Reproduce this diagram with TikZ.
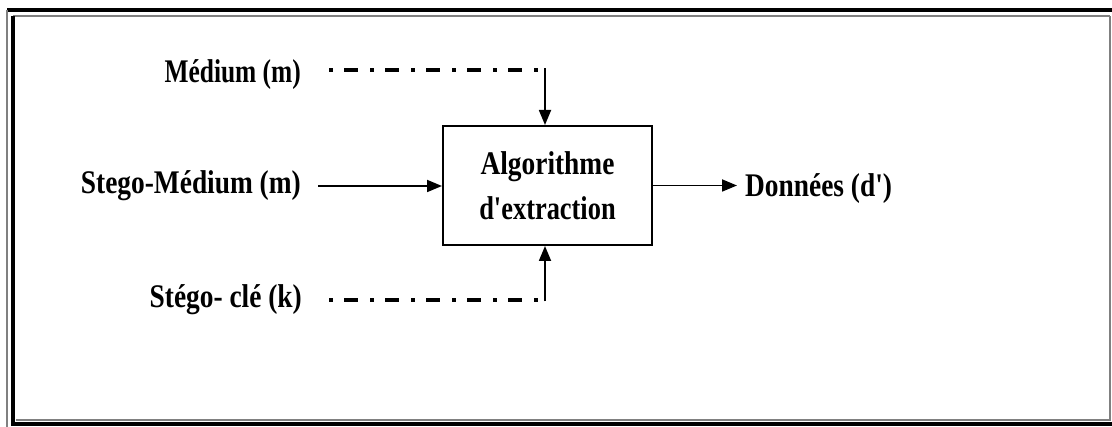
\documentclass[tikz,border=0pt]{standalone}
\usepackage{fontspec}
\usepackage{graphicx}
\setmainfont{Liberation Serif}
\usetikzlibrary{arrows.meta}
\tikzset{
  lbl/.style={inner sep=0pt, font=\fontsize{33}{35}\selectfont\bfseries},
  flow/.style={line width=1.8pt, -{Triangle[length=15pt,width=12pt]}},
  dashdot/.style={line width=3.5pt, dash pattern=on 4pt off 11pt on 14pt off 12pt},
  procbox/.style={draw, line width=2pt, minimum width=209pt, minimum height=119pt, align=center, inner sep=0pt, font=\fontsize{33}{45}\selectfont\bfseries}
}
\newcommand{\sq}[2][0.83]{\scalebox{#1}[1]{#2}}
\begin{document}
\begin{tikzpicture}[x=1pt,y=-1pt]
\useasboundingbox (0,0) rectangle (1112,427);
% frame
\draw[line width=3.5pt] (7,10) -- (1112,10);
\draw[line width=1.2pt, gray] (13,16) -- (1110,16);
\draw[line width=1.2pt, gray] (7,10) -- (7,427);
\draw[line width=3.5pt] (13,16) -- (13,424) -- (1112,424);
\draw[line width=1.2pt, gray] (1110,16) -- (1110,420) -- (16,420);
% nodes
\node[procbox] (alg) at (547.5,185.5) {\sq{Algorithme}\\\sq[0.8]{d\textquotesingle extraction}};
\node[lbl, anchor=east] (med) at (301,75) {\sq[0.77]{Médium (m)}};
\node[lbl, anchor=east] (smed) at (301,186) {\sq{Stego-Médium (m)}};
\node[lbl, anchor=east] (key) at (302,300) {\sq{Stégo- clé (k)}};
\node[lbl, anchor=west] (out) at (745,189) {\sq{Données (d\textquotesingle)}};
\coordinate (c1) at (545,70);
\coordinate (c2) at (545,300);
% connectors
\draw[dashdot] (329,70) -- (c1);
\draw[flow] (c1) ++(0,-1.5) -- (alg.north -| c1);
\draw[dashdot] (329,300) -- (c2);
\draw[flow] (c2) ++(0,1.5) -- (alg.south -| c2);
\draw[flow] (smed.east) ++(17,0) coordinate (s0) -- (alg.west |- s0);
\draw[flow, shorten >=8pt] (alg.east) -- (out.west |- alg.east);
\end{tikzpicture}
\end{document}
